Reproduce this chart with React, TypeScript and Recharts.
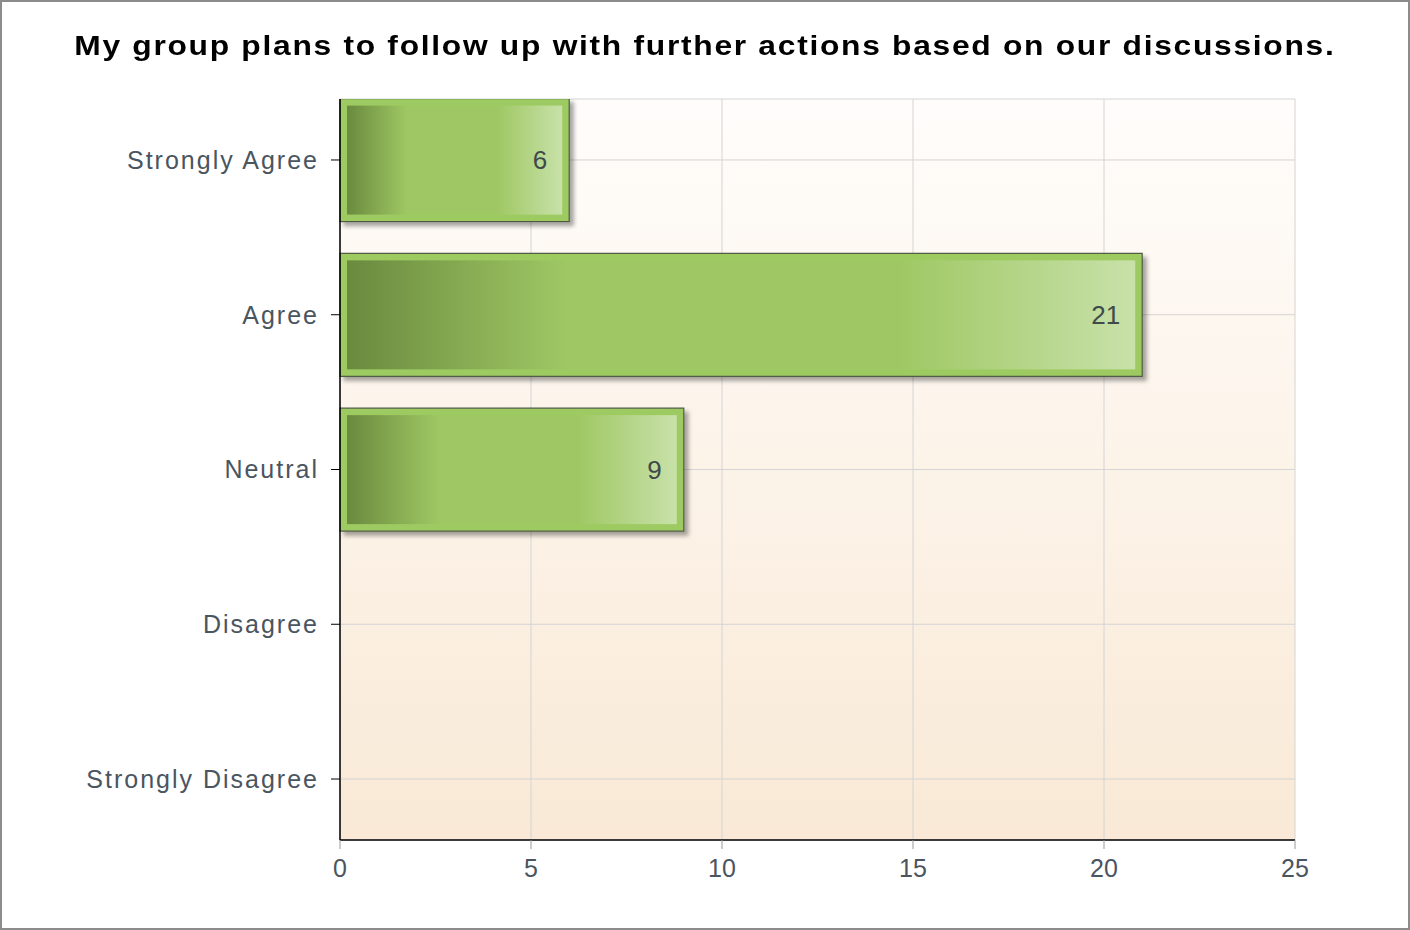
import { BarChart, Bar, XAxis, YAxis, CartesianGrid, LabelList } from 'recharts';

const categories = ['Strongly Agree', 'Agree', 'Neutral', 'Disagree', 'Strongly Disagree'];
const responses = [6, 21, 9, 0, 0];
const xTicks = [0, 5, 10, 15, 20, 25];
const TITLE = 'My group plans to follow up with further actions based on our discussions.';

const chartData = categories.map((name, idx) => ({ idx, name, value: responses[idx] }));

const FONT = '"Liberation Sans", Arial, sans-serif';

// bar drawn as a light green frame with a horizontal gradient inside
const GreenBar = (props: any) => {
  const { x, y, width, height } = props;
  if (!width || width <= 0) return null;
  const pad = 7;
  return (
    <g>
      <rect x={x} y={y} width={width} height={height} fill="#9dcb62" stroke="#4f5a44" strokeWidth={1.2} filter="url(#barShadow)" />
      <rect x={x + pad} y={y + pad} width={Math.max(width - pad * 2, 0)} height={height - pad * 2} fill="url(#barFill)" />
    </g>
  );
};

const ValueLabel = (props: any) => {
  const { x, y, width, height, value } = props;
  if (!value) return null;
  return (
    <text
      x={x + width - 22}
      y={y + height / 2}
      textAnchor="end"
      dominantBaseline="central"
      fontSize={26}
      fontFamily={FONT}
      fill="#3f4a4a"
    >
      {value}
    </text>
  );
};

export default function App() {
  return (
    <div style={{ position: 'absolute', left: 0, top: 0, width: 1410, height: 930, background: '#fff' }}>
      <div
        style={{
          position: 'absolute',
          top: 31,
          left: 0,
          width: 1410,
          textAlign: 'center',
          fontFamily: FONT,
          fontWeight: 'bold',
          fontSize: 28,
          lineHeight: '30px',
          letterSpacing: 1.5,
          color: '#000',
          whiteSpace: 'nowrap',
          transform: 'scaleX(1.135)',
          transformOrigin: '706px 0',
        }}
      >
        {TITLE}
      </div>
      <div style={{ position: 'absolute', left: 0, top: 0 }}>
        <BarChart
          width={1410}
          height={930}
          data={chartData}
          layout="vertical"
          margin={{ top: 99, right: 115, left: 140, bottom: 50 }}
        >
          <defs>
            <linearGradient id="plotBg" x1="0" y1="0" x2="0" y2="1">
              <stop offset="0%" stopColor="#fffdfb" />
              <stop offset="100%" stopColor="#f9e9d6" />
            </linearGradient>
            <linearGradient id="barFill" x1="0" y1="0" x2="1" y2="0">
              <stop offset="0%" stopColor="#6a8a3e" />
              <stop offset="28%" stopColor="#9fc864" />
              <stop offset="70%" stopColor="#9fc864" />
              <stop offset="100%" stopColor="#c8e1a9" />
            </linearGradient>
            <filter id="barShadow" x="-5%" y="-10%" width="115%" height="130%">
              <feDropShadow dx={4} dy={4} stdDeviation={2} floodColor="#000" floodOpacity={0.35} />
            </filter>
          </defs>
          <CartesianGrid stroke="#d4d4d4" fill="url(#plotBg)" />
          <XAxis
            type="number"
            dataKey="value"
            domain={[0, 25]}
            ticks={xTicks}
            interval={0}
            height={40}
            axisLine={{ stroke: '#000', strokeWidth: 1.5 }}
            tickLine={{ stroke: '#999' }}
            tickSize={9}
            tickMargin={10}
            tick={{ fill: '#4a5560', fontSize: 25, fontFamily: FONT }}
          />
          <YAxis
            type="number"
            dataKey="idx"
            domain={[-0.394, 4.394]}
            allowDataOverflow
            ticks={[0, 1, 2, 3, 4]}
            interval={0}
            width={200}
            tickFormatter={(v: number) => categories[v] ?? ''}
            axisLine={{ stroke: '#000', strokeWidth: 1.5 }}
            tickLine={{ stroke: '#000' }}
            tickSize={9}
            tickMargin={12}
            tick={{ fill: '#4a5560', fontSize: 25, fontFamily: FONT, letterSpacing: 2 }}
          />
          <Bar dataKey="value" barSize={123} shape={<GreenBar />} isAnimationActive={false}>
            <LabelList dataKey="value" content={<ValueLabel />} />
          </Bar>
        </BarChart>
      </div>
      <div
        style={{
          position: 'absolute',
          left: 0,
          top: 0,
          width: 1410,
          height: 930,
          boxSizing: 'border-box',
          border: '2px solid #8c8c8c',
          pointerEvents: 'none',
        }}
      />
    </div>
  );
}
